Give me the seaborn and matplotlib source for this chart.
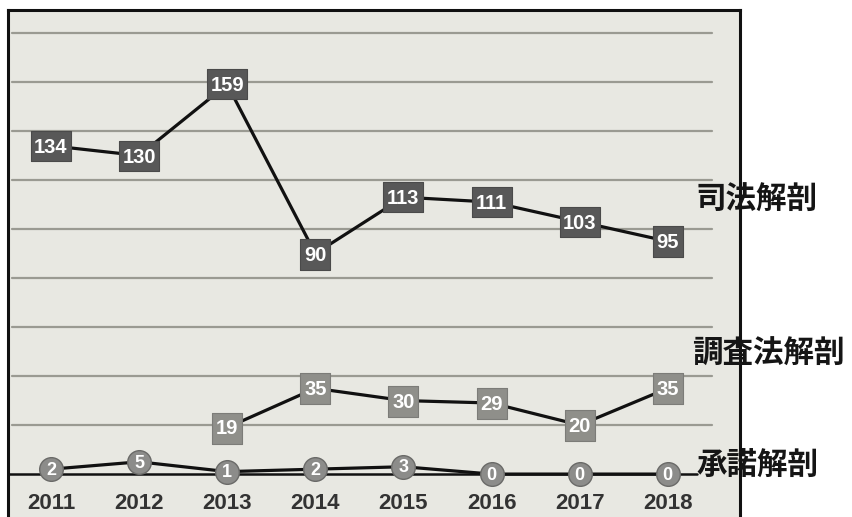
import matplotlib
matplotlib.use("Agg")
import matplotlib.pyplot as plt
import seaborn as sns
import numpy as np
import pandas as pd

years = ["2011", "2012", "2013", "2014", "2015", "2016", "2017", "2018"]
shiho = [134, 130, 159, 90, 113, 111, 103, 95]
chosaho = [np.nan, np.nan, 19, 35, 30, 29, 20, 35]
shodaku = [2, 5, 1, 2, 3, 0, 0, 0]
series_names = ["司法解剖", "調査法解剖", "承諾解剖"]
grid_values = [20, 40, 60, 80, 100, 120, 140, 160, 180]

sns.set_theme(style="white")
plt.rcParams['font.family'] = ['Liberation Sans', 'Noto Sans CJK JP', 'DejaVu Sans']

x = np.arange(len(years))
df = pd.DataFrame({"x": np.concatenate([x, x, x]),
                   "v": shiho + chosaho + shodaku,
                   "s": np.repeat(series_names, len(years))})

fig = plt.figure(figsize=(8.53, 5.17), dpi=100)
fig.patch.set_facecolor("white")
ax = fig.add_axes([8 / 853, -10 / 517, 732 / 853, 517 / 517])
ax.set_facecolor("#e8e8e2")
ax.set_xlim(-0.488, 7.82)
ax.set_ylim(-21.6, 189.4)

for gv in grid_values:
    ax.plot([-0.44, 7.5], [gv, gv], color="#9a9a92", lw=1.6, zorder=1)
ax.plot([-0.488, 7.33], [0, 0], color="#111111", lw=1.8, zorder=1)

sns.lineplot(data=df, x="x", y="v", hue="s", palette=["#111111"] * 3,
             linewidth=2.3, legend=False, ax=ax, zorder=2, sort=False)


def rect_marker(w, h):
    return [(-w / 2, -h / 2), (w / 2, -h / 2), (w / 2, h / 2), (-w / 2, h / 2), (-w / 2, -h / 2)]


def box(xi, v, fc, ec):
    txt = str(int(v))
    w = 40 if len(txt) >= 3 else 30
    h = 31
    size_pt = max(w, h) * 0.72
    ax.scatter([xi], [v], marker=rect_marker(w, h), s=size_pt ** 2,
               color=fc, edgecolor=ec, linewidth=0.8, zorder=4)
    ax.text(xi, v - 0.6, txt, ha="center", va="center", color="white",
            fontsize=14.5, fontweight="bold", zorder=5)


for xi, v in zip(x, shiho):
    box(xi, v, "#585858", "#4a4a4a")
for xi, v in zip(x, chosaho):
    if not np.isnan(v):
        box(xi, v, "#8f8f8a", "#7c7c78")

ax.scatter(x, shodaku, s=290, color="#8c8c8a", edgecolor="#6a6a68", linewidth=1.0, zorder=4)
for xi, v in zip(x, shodaku):
    ax.text(xi, v - 0.5, str(v), ha="center", va="center", color="white",
            fontsize=13, fontweight="bold", zorder=5)

# year labels
for xi, yr in zip(x, years):
    ax.text(xi, -12.0, yr, ha="center", va="center", color="#333333",
            fontsize=16, fontweight="bold", zorder=5)

# series labels
label_y = [111.8, 49.2, 3.2]
label_x = [7.31, 7.28, 7.33]
for lx, ly, name in zip(label_x, label_y, series_names):
    ax.text(lx, ly, name, ha="left", va="center", color="#151515",
            fontsize=22, fontweight="bold", family=['Noto Sans CJK JP', 'DejaVu Sans'],
            clip_on=False, zorder=6)

ax.set_xticks([])
ax.set_yticks([])
ax.set_xlabel("")
ax.set_ylabel("")
for side in ["left", "top", "right", "bottom"]:
    ax.spines[side].set_color("#111111")
    ax.spines[side].set_linewidth(2.2)
    ax.spines[side].set_visible(True)

fig.savefig("out.png", dpi=100, facecolor="white")
